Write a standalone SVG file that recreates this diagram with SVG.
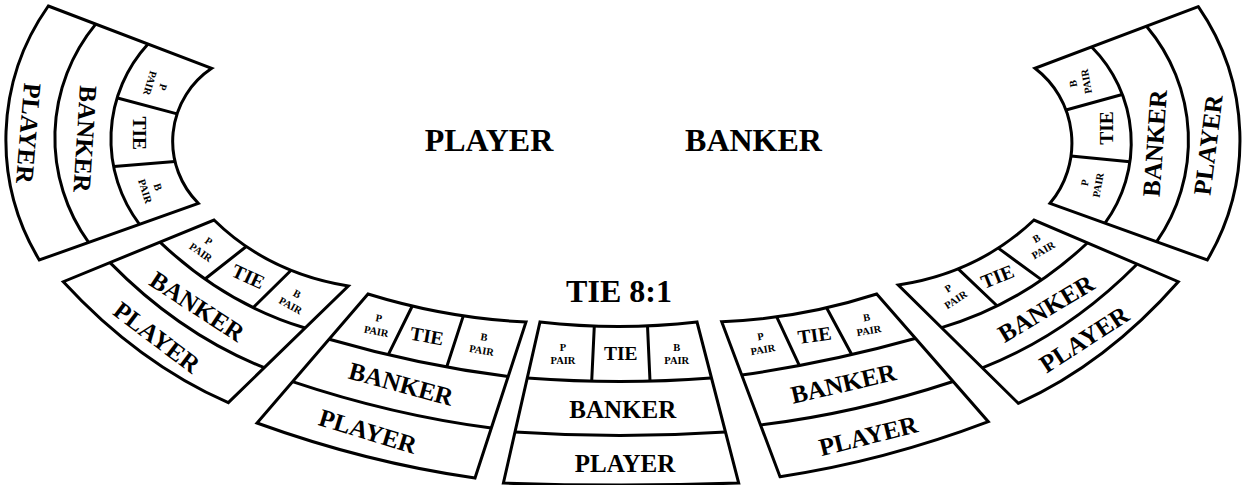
<svg xmlns="http://www.w3.org/2000/svg" width="1242" height="485" viewBox="0 0 1242 485">
<style>
.s{fill:#fff;stroke:#000;stroke-width:3;stroke-linejoin:miter}
.l{fill:none;stroke:#000;stroke-width:3}
text{font-family:"Liberation Serif","Times New Roman",serif;font-weight:bold;fill:#000;text-anchor:middle}
.big{font-size:32px}
.row{font-size:25px}
.tie{font-size:19.5px}
.pair{font-size:10.5px}
</style>
<rect width="1242" height="485" fill="#fff"/>
<g id="labels">
<text class="big" x="489" y="151">PLAYER</text>
<text class="big" x="753.5" y="151">BANKER</text>
<text class="big" x="619" y="302">TIE 8:1</text>
</g>
<g id="seg-L3">
<path class="s" d="M48.3,6 L211.7,68.3 A87.8,87.8 0 0 0 198.3,203.3 L39.3,260 A232.6,232.6 0 0 1 48.3,6 Z"/>
<path class="l" d="M148,44 A140.9,140.9 0 0 0 139.5,224.3"/>
<path class="l" d="M95.7,24.1 A178.9,178.9 0 0 0 88.6,242.4"/>
<path class="l" d="M117.5,98 L177.1,113.9 M114,166.5 L175,161.5"/>
<g class="pair" transform="translate(156.3,85) rotate(107)"><text y="-3.5">P</text><text y="10">PAIR</text></g>
<text class="tie" x="139.3" y="139.7" transform="rotate(90 139.3 133.3)">TIE</text>
<g class="pair" transform="translate(151.3,189.2) rotate(72)"><text y="-3.5">B</text><text y="10">PAIR</text></g>
<text class="row" x="85" y="147.25" transform="rotate(93.6 85 139)">BANKER</text>
<text class="row" x="28.3" y="141.55" transform="rotate(94.8 28.3 133.3)">PLAYER</text>
</g>
<g id="seg-L2">
<path class="s" d="M214,220 Q268,273 348.3,286 L228.3,402.7 Q138,363 63.3,281.7 Z"/>
<path class="l" d="M160,242.1 Q225.2,304 305.1,328"/>
<path class="l" d="M110,262.6 Q180,334 264.3,367.7"/>
<path class="l" d="M246.3,246.5 L205,279 M291.1,270.3 L253.3,307.5"/>
<g class="pair" transform="translate(204.5,247) rotate(35)"><text y="-3.5">P</text><text y="10">PAIR</text></g>
<text class="tie" x="248.3" y="283.1" transform="rotate(25 248.3 276.7)">TIE</text>
<g class="pair" transform="translate(293.7,300) rotate(29)"><text y="-3.5">B</text><text y="10">PAIR</text></g>
<text class="row" x="197" y="314.75" transform="rotate(33 197 306.5)">BANKER</text>
<text class="row" x="156.7" y="345.75" transform="rotate(37 156.7 337.5)">PLAYER</text>
</g>
<g id="seg-L1">
<path class="s" d="M368,294 Q447,318.4 526,322 L475,478 Q366,462.5 257,423 Z"/>
<path class="l" d="M329.2,339.2 Q418.7,365.1 508.2,376.6"/>
<path class="l" d="M292.5,381.7 Q391.9,415.1 491.3,428.1"/>
<path class="l" d="M412.3,306 L388.3,354.7 M463.3,315.9 L446.7,367"/>
<g class="pair" transform="translate(377.5,325) rotate(11)"><text y="-3.5">P</text><text y="10">PAIR</text></g>
<text class="tie" x="427" y="342.6" transform="rotate(10 427 336.2)">TIE</text>
<g class="pair" transform="translate(482.8,344) rotate(10)"><text y="-3.5">B</text><text y="10">PAIR</text></g>
<text class="row" x="401" y="392.35" transform="rotate(15 401 384.1)">BANKER</text>
<text class="row" x="367.8" y="439.75" transform="rotate(17 367.8 431.5)">PLAYER</text>
</g>
<g id="seg-C">
<path class="s" d="M540,322 Q618.5,331 697,322 L738.7,483 Q621,487 503.4,483 Z"/>
<path class="l" d="M527.2,378 Q620.9,385 711,378"/>
<path class="l" d="M514.9,432 Q619.8,439 725.5,432"/>
<path class="l" d="M594.3,326.1 L591.7,381.2 M647.5,325.9 L650,381.1"/>
<g class="pair" transform="translate(563,354.3)"><text y="-3.5">P</text><text y="10">PAIR</text></g>
<text class="tie" x="620.8" y="360">TIE</text>
<g class="pair" transform="translate(676.7,354.3)"><text y="-3.5">B</text><text y="10">PAIR</text></g>
<text class="row" x="622.8" y="417.7">BANKER</text>
<text class="row" x="625" y="471.7">PLAYER</text>
</g>
<g id="seg-R1">
<path class="s" d="M721.7,321.7 Q799.2,318.95 876.7,294 L988.3,421.7 Q884.15,461.2 780,476.7 Z"/>
<path class="l" d="M741.7,375 Q828.35,362.75 915,338.5"/>
<path class="l" d="M760.5,425 Q856.75,413.25 953,381.5"/>
<path class="l" d="M776.7,316.9 L799.3,365.4 M826.7,308 L851.7,354.5"/>
<g class="pair" transform="translate(761.7,343.3) rotate(-10)"><text y="-3.5">P</text><text y="10">PAIR</text></g>
<text class="tie" x="814.5" y="341.8" transform="rotate(-8 814.5 335.4)">TIE</text>
<g class="pair" transform="translate(867.7,324.3) rotate(-10)"><text y="-3.5">B</text><text y="10">PAIR</text></g>
<text class="row" x="843.3" y="392" transform="rotate(-13 843.3 383.75)">BANKER</text>
<text class="row" x="868.3" y="444.25" transform="rotate(-14 868.3 436)">PLAYER</text>
</g>
<g id="seg-R2">
<path class="s" d="M898.3,285 Q978,273 1034,220 L1178.3,281.7 Q1106.3,363.5 1018.3,403.3 Z"/>
<path class="l" d="M941.5,327.6 Q1021.8,304.3 1087.3,243"/>
<path class="l" d="M982.3,367.8 Q1066.5,335 1136.7,264.5"/>
<path class="l" d="M958.2,268.8 L996.7,305.5 M998.3,248.1 L1041,279.4"/>
<g class="pair" transform="translate(952.2,294.3) rotate(-33)"><text y="-3.5">P</text><text y="10">PAIR</text></g>
<text class="tie" x="997.5" y="283.1" transform="rotate(-22 997.5 276.7)">TIE</text>
<g class="pair" transform="translate(1040,244.6) rotate(-30)"><text y="-3.5">B</text><text y="10">PAIR</text></g>
<text class="row" x="1046.2" y="316.9" transform="rotate(-31 1046.2 308.65)">BANKER</text>
<text class="row" x="1084.2" y="347.75" transform="rotate(-33 1084.2 339.5)">PLAYER</text>
</g>
<g id="seg-R3">
<path class="s" d="M1198.3,6.7 L1035,68.3 A94,94 0 0 1 1050,203.3 L1207.3,260 A235.4,235.4 0 0 0 1198.3,6.7 Z"/>
<path class="l" d="M1091.7,47 A135.9,135.9 0 0 1 1105,223.1"/>
<path class="l" d="M1146.7,26.5 A176.8,176.8 0 0 1 1156.7,241.7"/>
<path class="l" d="M1066,110 L1122.2,94.5 M1071,156 L1129.8,161.7"/>
<g class="pair" transform="translate(1080,82.5) rotate(-100)"><text y="-3.5">B</text><text y="10">PAIR</text></g>
<text class="tie" x="1106.7" y="134.4" transform="rotate(-90 1106.7 128)">TIE</text>
<g class="pair" transform="translate(1091.7,184) rotate(-80)"><text y="-3.5">P</text><text y="10">PAIR</text></g>
<text class="row" x="1155" y="151.55" transform="rotate(-86 1155 143.3)">BANKER</text>
<text class="row" x="1208.3" y="153.25" transform="rotate(-83 1208.3 145)">PLAYER</text>
</g>
</svg>
